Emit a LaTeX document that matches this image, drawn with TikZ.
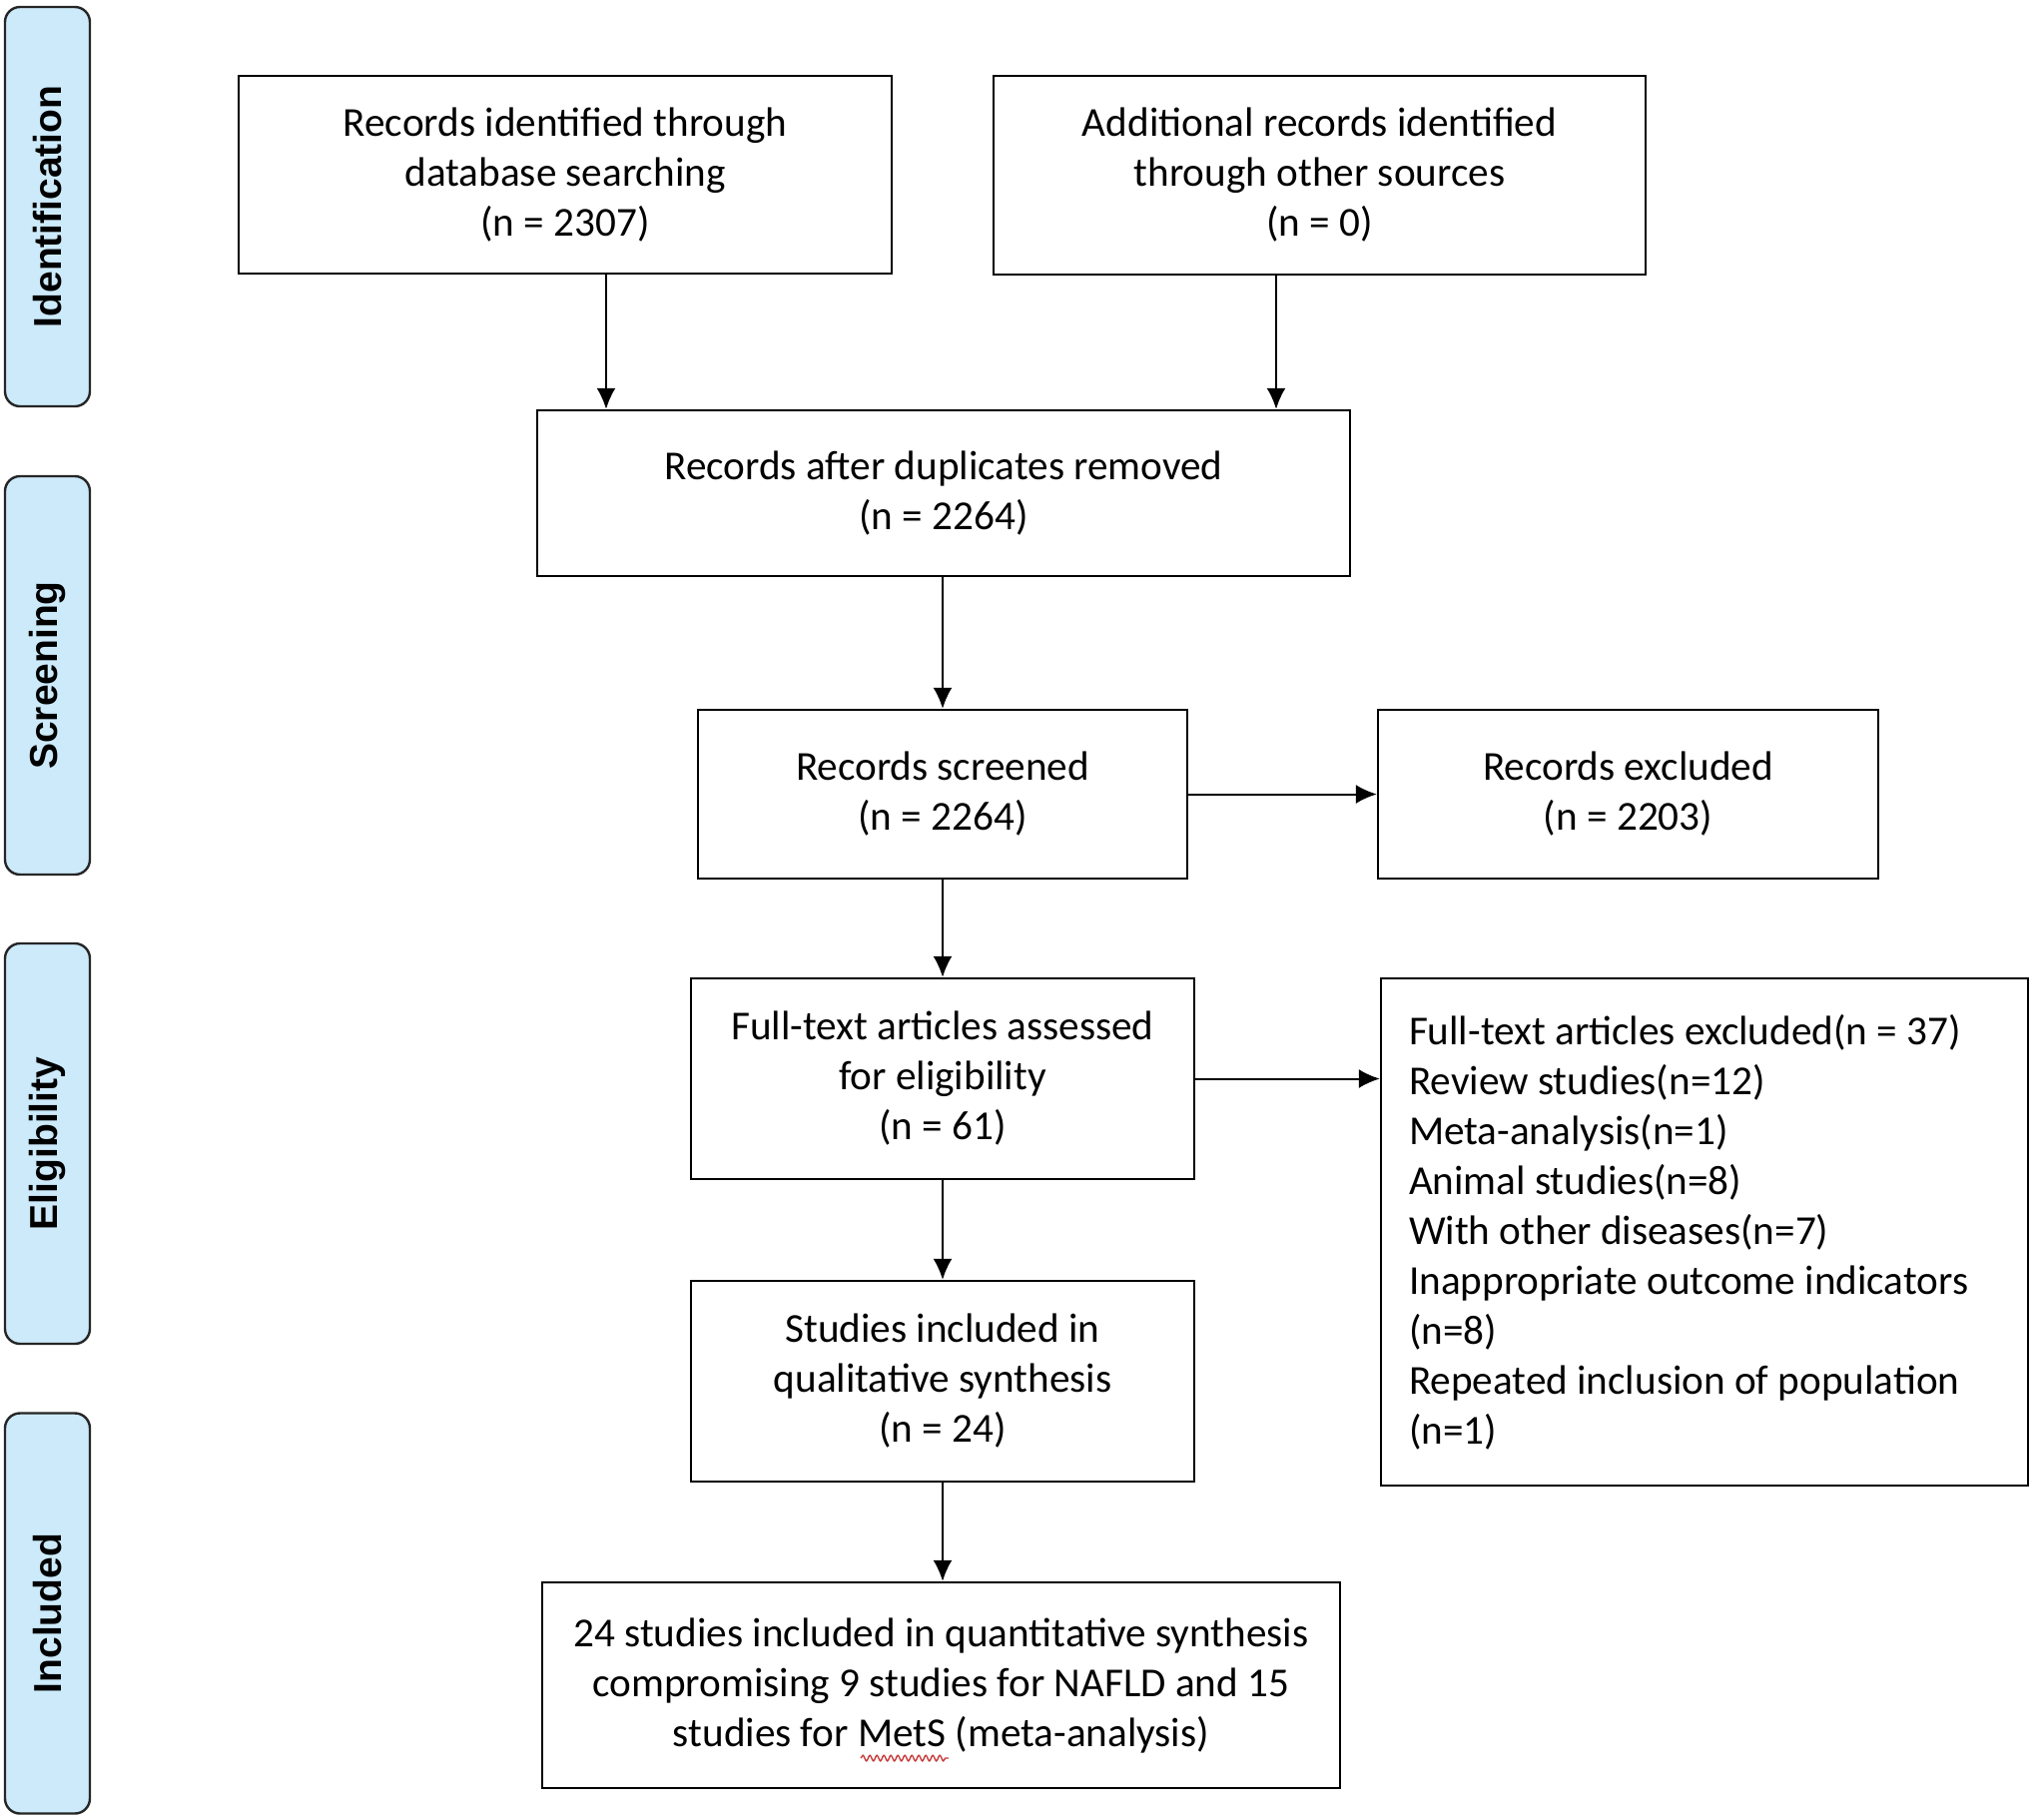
\documentclass[tikz,border=0pt]{standalone}
\usepackage{fontspec}
\setmainfont{Carlito}
\newfontfamily\sidefont{Liberation Sans}
\usetikzlibrary{arrows.meta,decorations.pathmorphing}
\definecolor{sideblue}{HTML}{CCEAFA}
\definecolor{wavered}{HTML}{C83C3C}
\begin{document}
\begin{tikzpicture}[x=1pt,y=-1pt,
  box/.style={draw=black, line width=2.4pt, align=center, inner sep=0pt,
    font=\fontsize{41.2}{50}\selectfont},
  sidebar/.style={draw=black!85, line width=2.4pt, fill=sideblue, rounded corners=15pt,
    minimum width=85pt, minimum height=400pt, inner sep=0pt},
  sidelabel/.style={rotate=90, font=\sidefont\bfseries\fontsize{39}{39}\selectfont},
  arr/.style={draw=black, line width=2pt, -{Latex[length=21pt,width=19pt]}}]
\useasboundingbox (0,0) rectangle (2047,1821);
\fill[white] (0,0) rectangle (2047,1821);

% side bars
\node[sidebar, minimum height=400pt] (s1) at (47.5,207) {};
\node[sidelabel] (l1) at (s1.center) {Identification};
\node[sidebar, minimum height=399pt] (s2) at (47.5,676.5) {};
\node[sidelabel] (l2) at (s2.center) {Screening};
\node[sidebar, minimum height=401pt] (s3) at (47.5,1145.5) {};
\node[sidelabel] (l3) at (s3.center) {Eligibility};
\node[sidebar, minimum height=401pt] (s4) at (47.5,1616) {};
\node[sidelabel] (l4) at (s4.center) {Included};

% boxes
\node[box, minimum width=654pt, minimum height=198pt] (A) at (566,175)
  {Records identified through\\database searching\\(n = 2307)};
\node[box, minimum width=653pt, minimum height=199pt] (B) at (1321.5,175.5)
  {Additional records identified\\through other sources\\(n = 0)};
\node[box, minimum width=814pt, minimum height=166pt] (C) at (945,494)
  {Records after duplicates removed\\(n = 2264)};
\node[box, minimum width=490pt, minimum height=169pt] (D) at (944,795.5)
  {Records screened\\(n = 2264)};
\node[box, minimum width=501pt, minimum height=169pt] (E) at (1630.5,795.5)
  {Records excluded\\(n = 2203)};
\node[box, minimum width=504pt, minimum height=201pt] (F) at (944,1080.5)
  {Full-text articles assessed\\for eligibility\\(n = 61)};
\node[box, minimum width=648pt, minimum height=508pt, align=flush left, text width=592pt] (G) at (1707,1234)
  {Full-text articles excluded(n = 37)\\Review studies(n=12)\\Meta-analysis(n=1)\\Animal studies(n=8)\\With other diseases(n=7)\\Inappropriate outcome indicators\\(n=8)\\Repeated inclusion of population\\(n=1)};
\node[box, minimum width=504pt, minimum height=201pt] (H) at (944,1383.5)
  {Studies included in\\qualitative synthesis\\(n = 24)};
\node[box, minimum width=799pt, minimum height=206pt] (I) at (942.5,1688)
  {24 studies included in quantitative synthesis\\compromising 9 studies for NAFLD and 15\\studies for MetS (meta-analysis)};

% spell-check wave under MetS
\coordinate (w1) at (862,1761);
\coordinate (w2) at (950,1761);
\draw[wavered, line width=1.4pt, decorate, decoration={snake, amplitude=2.8pt, segment length=7pt}] (w1) -- (w2);

% connectors
\coordinate (xa) at (607,0);
\coordinate (xb) at (1278,0);
\draw[arr] (A.south -| xa) -- (C.north -| xa);
\draw[arr] (B.south -| xb) -- (C.north -| xb);
\draw[arr] (C.south -| D.north) -- (D.north);
\draw[arr] (D.east) -- (E.west);
\draw[arr] (D.south) -- (F.north -| D.south);
\draw[arr] (F.east) -- (G.west |- F.east);
\draw[arr] (F.south) -- (H.north);
\draw[arr] (H.south) -- (I.north -| H.south);
\end{tikzpicture}
\end{document}
